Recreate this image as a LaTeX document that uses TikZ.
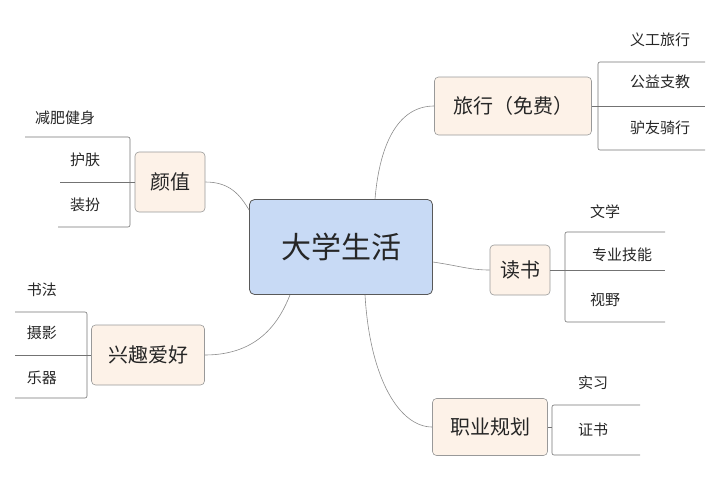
\documentclass[tikz,border=0pt]{standalone}
\usepackage{fontspec}
\newfontfamily\cjk{Noto Sans CJK SC}
\begin{document}
\begin{tikzpicture}[x=1pt,y=-1pt,
  ctr/.style={draw=black!65,fill={rgb,255:red,200;green,218;blue,245},rounded corners=5pt,line width=0.8pt,font=\cjk\fontsize{30}{34}\selectfont,text=black!85},
  br/.style={draw=black!40,fill={rgb,255:red,253;green,242;blue,232},rounded corners=4pt,line width=0.6pt,font=\cjk\fontsize{20}{24}\selectfont,text=black!85},
  leaf/.style={font=\cjk\fontsize{15}{18}\selectfont,text=black!85},
  ln/.style={draw=black!55,line width=0.6pt,rounded corners=2pt},
  cn/.style={draw=black!45,line width=0.6pt}]
\useasboundingbox (0,0) rectangle (720,480);
\node[ctr,minimum width=183pt,minimum height=95pt] (c) at (341,247) {大学生活};
% 颜值
\node[br,minimum width=70pt,minimum height=60pt] (yz) at (170,182) {颜值};
\node[leaf] (l1) at (65,118) {减肥健身};
\node[leaf] (l2) at (85,160) {护肤};
\node[leaf] (l3) at (85,205) {装扮};
\draw[ln] (25,137) -- (130,137) -- (130,227) -- (58,227);
\draw[ln] (60,182) -- (yz.west);
\draw[cn] (yz.east) .. controls (230,182) and (240,195) .. (c.west|-0,210);
% 兴趣爱好
\node[br,minimum width=113pt,minimum height=60pt] (xq) at (148,355) {兴趣爱好};
\node[leaf] (m1) at (42,290) {书法};
\node[leaf] (m2) at (42,333) {摄影};
\node[leaf] (m3) at (42,378) {乐器};
\draw[ln] (15,312) -- (87,312) -- (87,398) -- (15,398);
\draw[ln] (15,355) -- (xq.west);
\draw[cn] (xq.east) .. controls (260,355) and (280,320) .. (c.south-|290,0);
% 旅行
\node[br,minimum width=157pt,minimum height=58pt] (lx) at (513,106) {旅行（免费）};
\node[leaf] (n1) at (660,40) {义工旅行};
\node[leaf] (n2) at (660,82) {公益支教};
\node[leaf] (n3) at (660,128) {驴友骑行};
\draw[ln] (705,62) -- (598,62) -- (598,150) -- (705,150);
\draw[ln] (lx.east) -- (705,106);
\draw[cn] (c.north-|375,0) .. controls (380,140) and (400,106) .. (lx.west);
% 读书
\node[br,minimum width=60pt,minimum height=50pt] (ds) at (520,270) {读书};
\node[leaf] (o1) at (605,212) {文学};
\node[leaf] (o2) at (622,255) {专业技能};
\node[leaf] (o3) at (605,300) {视野};
\draw[ln] (665,232) -- (565,232) -- (565,322) -- (665,322);
\draw[ln] (ds.east) -- (665,270);
\draw[cn] (c.east|-0,262) .. controls (460,266) and (470,270) .. (ds.west);
% 职业规划
\node[br,minimum width=115pt,minimum height=57pt] (zy) at (490,427) {职业规划};
\node[leaf] (p1) at (593,383) {实习};
\node[leaf] (p2) at (593,430) {证书};
\draw[ln] (640,405) -- (552,405) -- (552,455) -- (640,455);
\draw[ln] (zy.east) -- (552,427);
\draw[cn] (c.south-|365,0) .. controls (370,380) and (400,427) .. (zy.west);
\end{tikzpicture}
\end{document}
